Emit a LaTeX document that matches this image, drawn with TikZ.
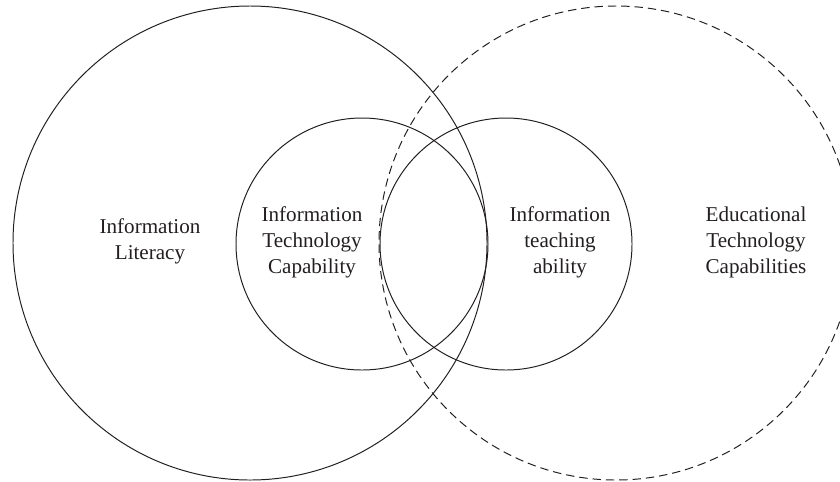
\documentclass[tikz,border=0pt]{standalone}
\usepackage{xcolor}
\usepackage{fontspec}
\setmainfont{Liberation Serif}
\usepackage{tikz}
\definecolor{vennline}{RGB}{35, 31, 32}
\definecolor{venntext}{RGB}{35, 31, 32}

\tikzset{
    ring/.style={draw=vennline, line width=0.7pt},
    dashring/.style={draw=vennline, line width=0.7pt, dash pattern=on 6pt off 3.5pt},
    label/.style={align=center, text=venntext, font=\fontsize{15}{18.5}\selectfont}
}

\begin{document}
\begin{tikzpicture}[x=0.025cm, y=-0.025cm]
    \useasboundingbox (0,0) rectangle (840,481);
    \clip (0,0) rectangle (840,481);

    % Outer rings
    \draw[ring] (250,243) circle[radius=237];
    \draw[dashring] (616,243) circle[radius=237];

    % Inner rings
    \draw[ring] (362,244) circle[radius=126];
    \draw[ring] (506,244) circle[radius=126];

    % Labels
    \node[label] (literacy) at (150,241) {Information\\Literacy};
    \node[label] (itcap) at (312,242) {Information\\Technology\\Capability};
    \node[label] (teaching) at (560,242) {Information\\teaching\\ability};
    \node[label] (edtech) at (756,242) {Educational\\Technology\\Capabilities};
\end{tikzpicture}
\end{document}
